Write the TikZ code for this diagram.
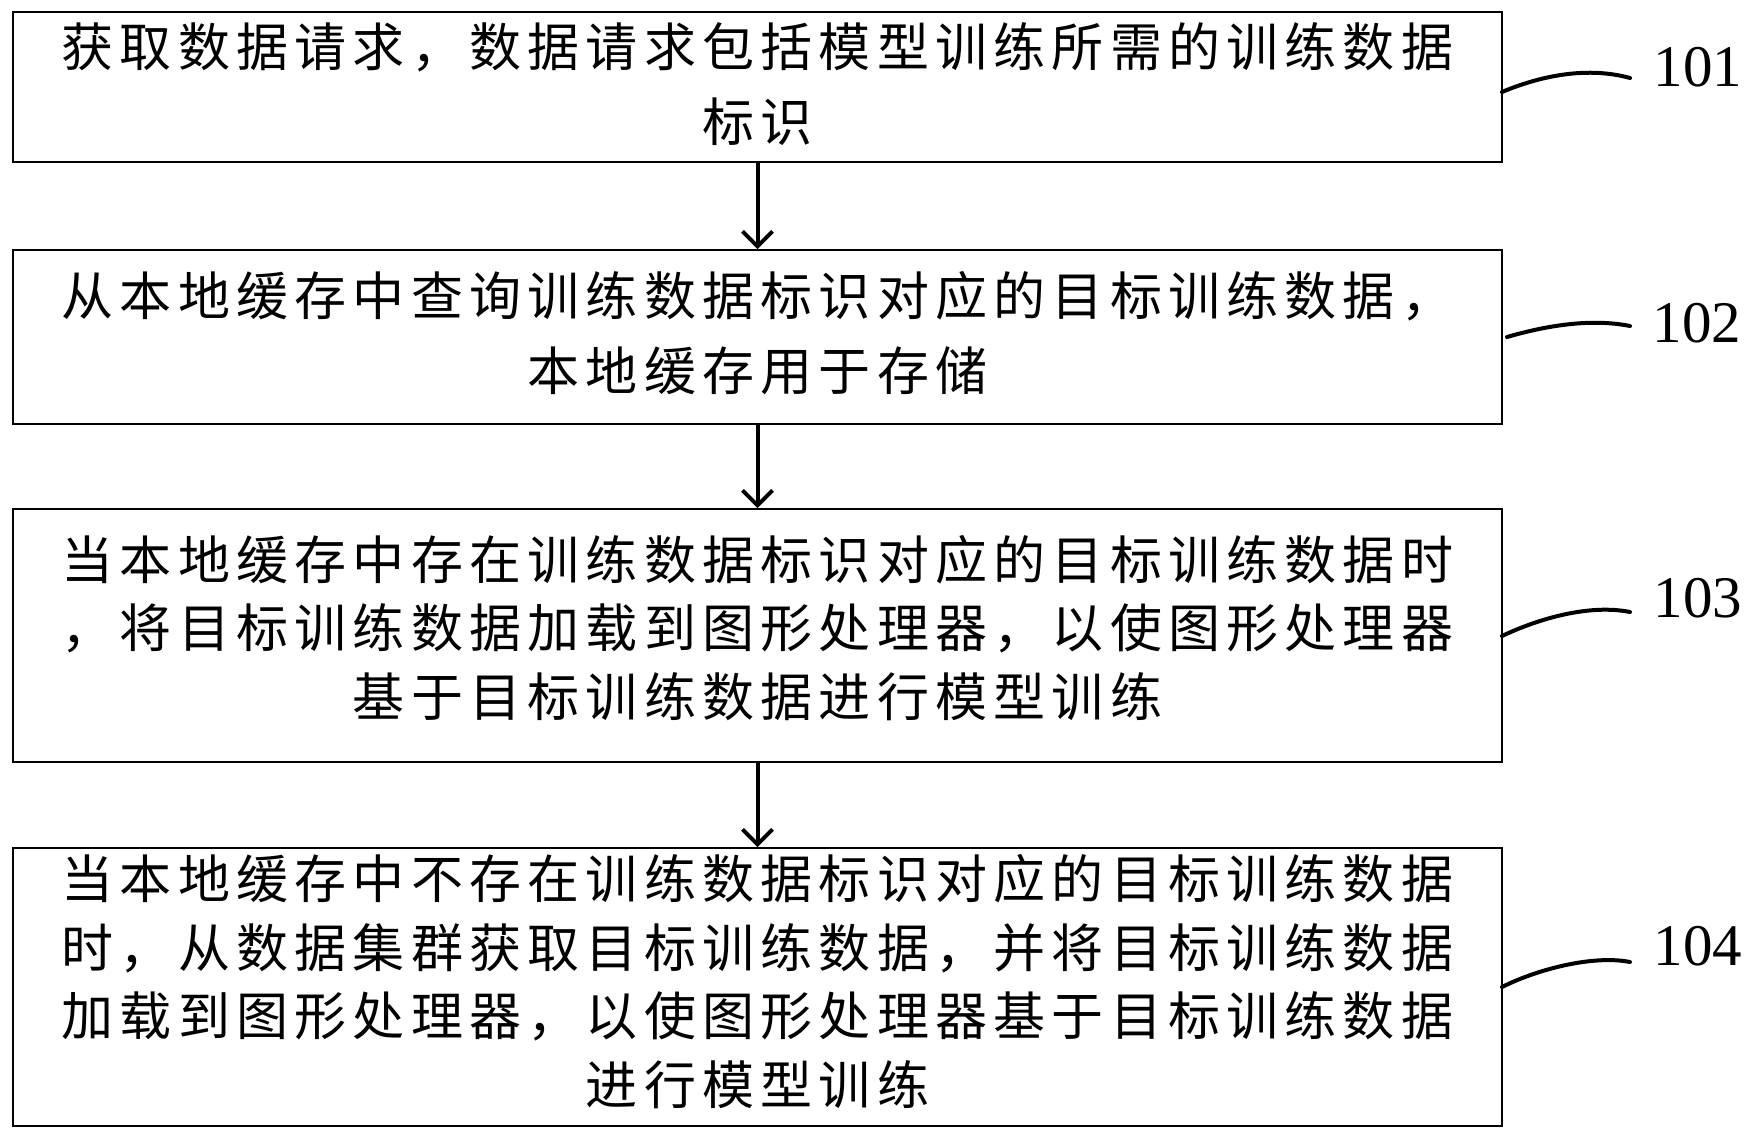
\documentclass[tikz,border=0pt]{standalone}
\usepackage{fontspec}
\setmainfont{Liberation Serif}
\newfontfamily\cjk[LetterSpace=12]{Noto Sans CJK SC}
\usetikzlibrary{arrows.meta}
\begin{document}
\begin{tikzpicture}[x=1pt,y=-1pt,
  stepbox/.style={draw, line width=1.6pt, inner sep=0pt},
  txtA/.style={align=center, inner sep=0pt, font=\cjk\fontsize{52pt}{75pt}\selectfont},
  txtB/.style={align=center, inner sep=0pt, font=\cjk\fontsize{52pt}{68.5pt}\selectfont},
  numlabel/.style={inner sep=0pt, font=\fontsize{59pt}{59pt}\selectfont},
  arr/.style={line width=4pt, -{Straight Barb[length=15pt,width=30pt]}},
  lead/.style={line width=4pt, line cap=round}]
\fill[white] (0,0) rectangle (1753,1140);
\useasboundingbox (0,0) rectangle (1753,1140);

% boxes
\node[stepbox, minimum width=1489pt, minimum height=150pt] (b1) at (757.5,87) {};
\node[stepbox, minimum width=1489pt, minimum height=174pt] (b2) at (757.5,337) {};
\node[stepbox, minimum width=1489pt, minimum height=253pt] (b3) at (757.5,635.5) {};
\node[stepbox, minimum width=1489pt, minimum height=278pt] (b4) at (757.5,987) {};

% texts
\node[txtA] (t1) at (757.5,84.5) {获取数据请求，数据请求包括模型训练所需的训练数据\\标识};
\node[txtA] (t2) at (757.5,333) {从本地缓存中查询训练数据标识对应的目标训练数据，\\本地缓存用于存储};
\node[txtB] (t3) at (757.5,628) {当本地缓存中存在训练数据标识对应的目标训练数据时\\，将目标训练数据加载到图形处理器，以使图形处理器\\基于目标训练数据进行模型训练};
\node[txtB] (t4) at (757.5,981.5) {当本地缓存中不存在训练数据标识对应的目标训练数据\\时，从数据集群获取目标训练数据，并将目标训练数据\\加载到图形处理器，以使图形处理器基于目标训练数据\\进行模型训练};

% arrows
\draw[arr] (b1) -- (b2);
\draw[arr] (b2) -- (b3);
\draw[arr] (b3) -- (b4);

% step labels
\node[numlabel] (l1) at (1698,67) {101};
\node[numlabel] (l2) at (1697,323) {102};
\node[numlabel] (l3) at (1698,598) {103};
\node[numlabel] (l4) at (1698,946) {104};

% leader lines
\coordinate (s1) at (1502,92);  \coordinate (e1) at (1630,78);
\coordinate (s2) at (1507,337); \coordinate (e2) at (1630,326);
\coordinate (s3) at (1502,636); \coordinate (e3) at (1630,612);
\coordinate (s4) at (1502,987); \coordinate (e4) at (1630,962);
\draw[lead] (s1) .. controls (1545,74) and (1590,67) .. (e1);
\draw[lead] (s2) .. controls (1545,326) and (1590,318) .. (e2);
\draw[lead] (s3) .. controls (1540,618) and (1590,604) .. (e3);
\draw[lead] (s4) .. controls (1540,968) and (1595,955) .. (e4);
\end{tikzpicture}
\end{document}
